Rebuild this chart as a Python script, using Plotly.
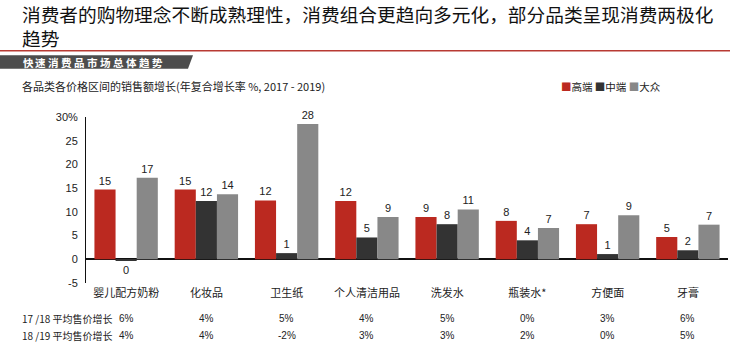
import plotly.graph_objects as go

categories = ["婴儿配方奶粉", "化妆品", "卫生纸", "个人清洁用品", "洗发水", "瓶装水*", "方便面", "牙膏"]
series_names = ["高端", "中端", "大众"]
premium = [14.7, 14.7, 12.4, 12.3, 8.9, 8.1, 7.4, 4.7]
mid = [-0.3, 12.3, 1.3, 4.6, 7.4, 4.0, 1.1, 1.9]
mass = [17.2, 13.7, 28.5, 8.9, 10.5, 6.6, 9.3, 7.3]
premium_labels = ["15", "15", "12", "12", "9", "8", "7", "5"]
mid_labels = ["0", "12", "1", "5", "8", "4", "1", "2"]
mass_labels = ["17", "14", "28", "9", "11", "7", "9", "7"]
price_growth_1718 = ["6%", "4%", "5%", "4%", "5%", "0%", "3%", "6%"]
price_growth_1819 = ["4%", "4%", "-2%", "3%", "3%", "2%", "0%", "5%"]
row_labels = ["17 /18 平均售价增长", "18 /19 平均售价增长"]
y_tickvals = [-5, 0, 5, 10, 15, 20, 25, 30]
y_ticktext = ["-5", "0", "5", "10", "15", "20", "25", "30%"]

title_lines = ["消费者的购物理念不断成熟理性，消费组合更趋向多元化，部分品类呈现消费两极化", "趋势"]
banner_text = "快速消费品市场总体趋势"
subtitle = "各品类各价格区间的销售额增长(年复合增长率 %, 2017 - 2019)"

colors = ["#bb2920", "#333333", "#888888"]
FONT = "Liberation Sans, Arial, Noto Sans CJK SC, sans-serif"
CJK = "Noto Sans CJK SC, Liberation Sans, sans-serif"

W, H = 750, 350
L, R, T, B = 86, 728, 117, 283.5


def px(x):
    return (x - L) / (R - L)


def py(y):
    return (B - y) / (B - T)


fig = go.Figure()
for name, vals, labels, col in zip(series_names, [premium, mid, mass],
                                   [premium_labels, mid_labels, mass_labels], colors):
    fig.add_trace(go.Bar(
        x=categories, y=vals, name=name, marker=dict(color=col, line=dict(width=0)),
        text=labels, textposition="outside", cliponaxis=False,
        textfont=dict(family=FONT, size=11, color="#222222"),
        showlegend=False,
    ))

annotations = []
# Title (two lines in one block)
annotations.append(dict(text="<br>".join(title_lines), x=px(20), y=py(25), xref="paper", yref="paper",
                        xanchor="left", yanchor="middle", align="left", showarrow=False,
                        font=dict(family=CJK, size=18.7, color="#111111")))
# Banner text (letter-spaced: one character per annotation)
for i, ch in enumerate(banner_text):
    annotations.append(dict(text=ch, x=px(28 + i * 12.9), y=py(62),
                            xref="paper", yref="paper", xanchor="center", yanchor="middle",
                            showarrow=False, font=dict(family=CJK, size=10.5, color="white", weight="bold")))
# Subtitle
annotations.append(dict(text=subtitle, x=px(20), y=py(86), xref="paper", yref="paper",
                        xanchor="left", yanchor="middle", showarrow=False,
                        font=dict(family=CJK, size=11, color="#222222")))
# Legend (custom)
legend_html = " ".join(f"<span style='color:{c}'>■</span>{n}" for n, c in zip(series_names, colors))
annotations.append(dict(text=legend_html, x=px(559), y=py(86), xref="paper", yref="paper",
                        xanchor="left", yanchor="middle", showarrow=False,
                        font=dict(family=CJK, size=10.5, color="#222222")))
# Table rows
for r, (lab, vals) in enumerate(zip(row_labels, [price_growth_1718, price_growth_1819])):
    yy = py(319 + r * 17.5)
    annotations.append(dict(text=lab, x=px(20), y=yy, xref="paper", yref="paper",
                            xanchor="left", yanchor="middle", showarrow=False,
                            font=dict(family=CJK, size=10, color="#222222")))
    for cat, v in zip(categories, vals):
        annotations.append(dict(text=v, x=cat, y=yy, xref="x", yref="paper",
                                xanchor="center", yanchor="middle", showarrow=False,
                                font=dict(family=FONT, size=10, color="#222222")))

shapes = [
    dict(type="line", xref="paper", yref="paper", x0=px(0), x1=px(730), y0=py(50.5), y1=py(50.5),
         line=dict(color="#b83a33", width=1.5)),
    dict(type="path", xref="paper", yref="paper",
         path=f"M {px(0)},{py(55)} L {px(193)},{py(55)} L {px(188)},{py(68.5)} L {px(0)},{py(68.5)} Z",
         fillcolor="#4d4d4d", line=dict(width=0)),
]

fig.update_layout(
    width=W, height=H,
    margin=dict(l=L, r=W - R, t=T, b=H - B, pad=0),
    paper_bgcolor="white", plot_bgcolor="white",
    barmode="group", bargap=0.21, bargroupgap=0,
    annotations=annotations, shapes=shapes,
    font=dict(family=CJK, color="#222222"),
    xaxis=dict(showgrid=False, showline=False, ticks="", zeroline=False,
               tickfont=dict(family=CJK, size=11, color="#222222"), ticklabelstandoff=2),
    yaxis=dict(range=[-5, 30], showgrid=False, showline=True, linecolor="#111111", linewidth=1,
               zeroline=True, zerolinecolor="#111111", zerolinewidth=1.5,
               tickvals=y_tickvals, ticktext=y_ticktext, ticks="",
               tickfont=dict(family=FONT, size=11, color="#222222"), ticklabelstandoff=5),
)

fig.write_html("out.html")
